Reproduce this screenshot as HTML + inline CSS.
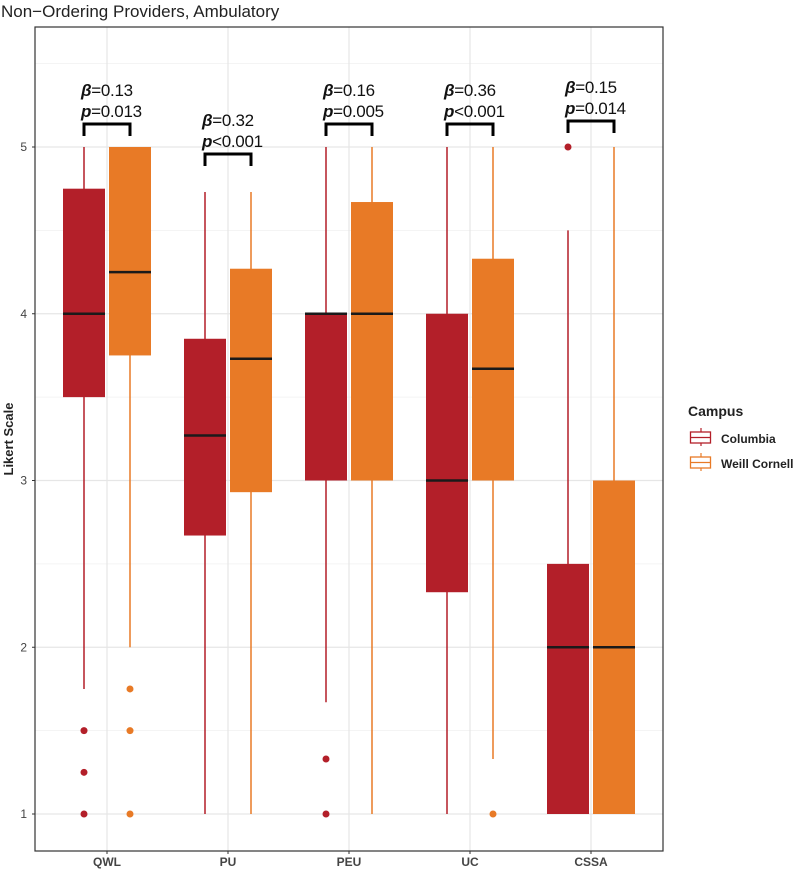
<!DOCTYPE html>
<html><head><meta charset="utf-8"><style>
body{margin:0;background:#fff;}
svg text{font-family:"Liberation Sans",sans-serif;}
</style></head><body>
<svg id="chart" width="800" height="870">
<text x="1" y="17" font-size="17" fill="#222">Non−Ordering Providers, Ambulatory</text>
<g id="grid"></g><g id="marks"></g><g id="axes"></g>
<text transform="translate(13,439) rotate(-90)" text-anchor="middle" font-size="13" font-weight="bold" fill="#222">Likert Scale</text>
<g>
<text x="688" y="416" font-size="14" font-weight="bold" fill="#222">Campus</text>
<g>
<line x1="701" y1="428" x2="701" y2="446" stroke="#B31F29" stroke-width="1.2"/>
<rect x="690.5" y="432" width="20" height="11" fill="#fff" stroke="#B31F29" stroke-width="1.3"/>
<line x1="690" y1="437.5" x2="711" y2="437.5" stroke="#B31F29" stroke-width="1.3"/>
<text x="721" y="443" font-size="12" font-weight="bold" fill="#222">Columbia</text></g>
<g>
<line x1="701" y1="453" x2="701" y2="471" stroke="#E87A26" stroke-width="1.2"/>
<rect x="690.5" y="457" width="20" height="11" fill="#fff" stroke="#E87A26" stroke-width="1.3"/>
<line x1="690" y1="462.5" x2="711" y2="462.5" stroke="#E87A26" stroke-width="1.3"/>
<text x="721" y="468" font-size="12" font-weight="bold" fill="#222">Weill Cornell</text></g>
</g>
</svg>
<script>
const categories=["QWL","PU","PEU","UC","CSSA"];
const colLow=[1.75,1,1.67,1,1];
const colQ1=[3.5,2.67,3,2.33,1];
const colMed=[4,3.27,4,3,2];
const colQ3=[4.75,3.85,4,4,2.5];
const colHigh=[5,4.73,5,5,4.5];
const colOut=[[1.5,1.25,1],[],[1.33,1],[],[5]];
const wcLow=[2,1,1,1.33,1];
const wcQ1=[3.75,2.93,3,3,1];
const wcMed=[4.25,3.73,4,3.67,2];
const wcQ3=[5,4.27,4.67,4.33,3];
const wcHigh=[5,4.73,5,5,5];
const wcOut=[[1.75,1.5,1],[],[],[1],[]];
const betas=["0.13","0.32","0.16","0.36","0.15"];
const pvals=["= 0.013","<0.001","= 0.005","<0.001","= 0.014"];
const bracketLevel=[5.138,4.958,5.138,5.138,5.156];
const yTicks=[1,2,3,4,5];
const yMinor=[1.5,2.5,3.5,4.5,5.5];

const NS="http://www.w3.org/2000/svg";
const L=35,R=663,T=27,B=851;
const y=v=>814-(v-1)*166.75;
const x=i=>107+i*121;
function mk(p,tag,a){const e=document.createElementNS(NS,tag);for(const k in a)e.setAttribute(k,a[k]);p.appendChild(e);return e;}
const grid=document.getElementById('grid'),marks=document.getElementById('marks'),axes=document.getElementById('axes');
mk(grid,'rect',{x:L,y:T,width:R-L,height:B-T,fill:'#fff'});
yMinor.forEach(v=>{const l=mk(grid,'line',{x1:L,x2:R,y1:y(v),y2:y(v),stroke:'#f0f0f0','stroke-width':0.8});

});
yTicks.forEach(v=>{const l=mk(grid,'line',{x1:L,x2:R,y1:y(v),y2:y(v),stroke:'#e6e6e6','stroke-width':1.2});


const t=mk(axes,'text',{x:L-8,y:y(v)+4,'text-anchor':'end','font-size':12,fill:'#444'});t.textContent=v;


mk(axes,'line',{x1:L-3,x2:L,y1:y(v),y2:y(v),stroke:'#333'});});
categories.forEach((c,i)=>{const l=mk(grid,'line',{x1:x(i),x2:x(i),y1:T,y2:B,stroke:'#e6e6e6','stroke-width':1.2});


mk(axes,'line',{x1:x(i),x2:x(i),y1:B,y2:B+3,stroke:'#333'});
const t=mk(axes,'text',{x:x(i),y:B+15,'text-anchor':'middle','font-size':12,'font-weight':'bold',fill:'#444'});t.textContent=c;

});
mk(axes,'rect',{x:L,y:T,width:R-L,height:B-T,fill:'none',stroke:'#333','stroke-width':1.2});
function box(cx,lo,q1,md,q3,hi,outs,col,name){
 const g=mk(marks,'g',{});
 
 
 mk(g,'line',{x1:cx,x2:cx,y1:y(hi),y2:y(lo),stroke:col,'stroke-width':1.5});
 mk(g,'rect',{x:cx-21,y:y(q3),width:42,height:Math.max(y(q1)-y(q3),0.5),fill:col});
 mk(g,'line',{x1:cx-21,x2:cx+21,y1:y(md),y2:y(md),stroke:'#1a1a1a','stroke-width':2.5});
 outs.forEach(o=>{const c=mk(g,'circle',{cx:cx,cy:y(o),r:3.5,fill:col});
 
 });
}
categories.forEach((c,i)=>{
 box(x(i)-23,colLow[i],colQ1[i],colMed[i],colQ3[i],colHigh[i],colOut[i],'#B31F29','box-columbia-'+c.toLowerCase());
 box(x(i)+23,wcLow[i],wcQ1[i],wcMed[i],wcQ3[i],wcHigh[i],wcOut[i],'#E87A26','box-weill-'+c.toLowerCase());
 const by=y(bracketLevel[i]);
 const g=mk(marks,'g',{});
 
 
 mk(g,'path',{d:`M${x(i)-23},${by+12}V${by}H${x(i)+23}V${by+12}`,fill:'none',stroke:'#000','stroke-width':3});
 const t1=mk(g,'text',{x:x(i)-26,y:by-28,'font-size':17,fill:'#111','letter-spacing':'-0.3'});t1.innerHTML='<tspan font-style="italic" font-weight="bold">β</tspan>='+betas[i];
 const t2=mk(g,'text',{x:x(i)-26,y:by-7,'font-size':17,fill:'#111','letter-spacing':'-0.3'});t2.innerHTML='<tspan font-style="italic" font-weight="bold">p</tspan>'+pvals[i].replace('= ','=');
});
</script>
</body></html>
